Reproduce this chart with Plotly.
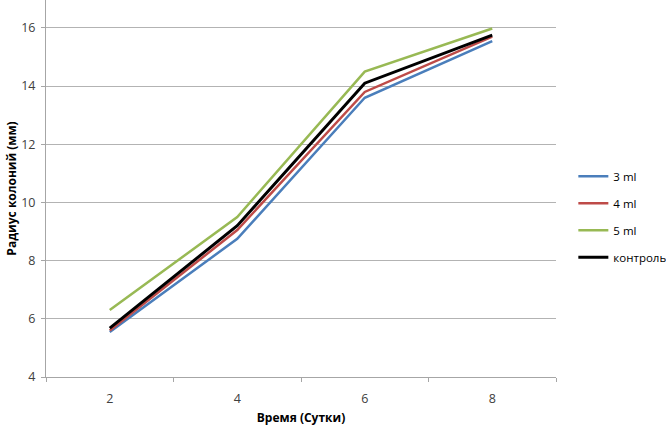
import plotly.graph_objects as go

days = [2, 4, 6, 8]
series_names = ["3 ml", "4 ml", "5 ml", "контроль"]
v_3ml = [5.55, 8.75, 13.6, 15.55]
v_4ml = [5.6, 9.05, 13.8, 15.7]
v_5ml = [6.3, 9.5, 14.5, 15.98]
v_ctrl = [5.68, 9.2, 14.1, 15.75]
colors = ["#4a7ebb", "#be4b48", "#98b954", "#000000"]
widths = [2.5, 2.5, 2.5, 3]

fig = go.Figure()
for name, vals, c, w in zip(series_names, [v_3ml, v_4ml, v_5ml, v_ctrl], colors, widths):
    fig.add_trace(go.Scatter(x=days, y=vals, mode="lines", name=name,
                             legendgroup=name,
                             line=dict(color=c, width=w)))

fig.update_layout(
    width=666, height=426,
    margin=dict(l=46, r=110, t=0, b=49, autoexpand=False),
    paper_bgcolor="white", plot_bgcolor="white",
    font=dict(family="Open Sans, Arial, sans-serif", size=12, color="#404040"),
    showlegend=True,
    legend=dict(x=1.034, y=0.425, xanchor="left", yanchor="middle",
                font=dict(size=11.5, color="#000000"),
                traceorder="grouped", tracegroupgap=8, itemwidth=30,
                bgcolor="rgba(0,0,0,0)"),
)
fig.update_xaxes(
    range=[1, 9], tickvals=days, ticktext=[str(d) for d in days],
    showgrid=False, zeroline=False, showline=True, linecolor="#a6a6a6", linewidth=1,
    ticks="", tickfont=dict(size=12.5, color="#404040"), automargin=False,
    ticklabelstandoff=10,
    minor=dict(tick0=1, dtick=2, ticks="outside", ticklen=4, tickcolor="#a6a6a6", showgrid=False),
    title=dict(text="<b>Время (Сутки)</b>", font=dict(size=12, color="#000000"), standoff=8),
)
fig.update_yaxes(
    range=[4, 16.96], tickvals=[4, 6, 8, 10, 12, 14, 16],
    showgrid=True, gridcolor="#b3b3b3", gridwidth=1, zeroline=False,
    showline=True, linecolor="#a6a6a6", linewidth=1, automargin=False,
    ticks="outside", ticklen=4, tickcolor="#a6a6a6",
    tickfont=dict(size=12.5, color="#404040"), ticklabelstandoff=3,
    title=dict(text="<b>Радиус колоний (мм)</b>", font=dict(size=12, color="#000000"), standoff=2),
)
fig.write_html("out.html", config={"displayModeBar": False},
               post_script="document.body.style.margin='0';")
